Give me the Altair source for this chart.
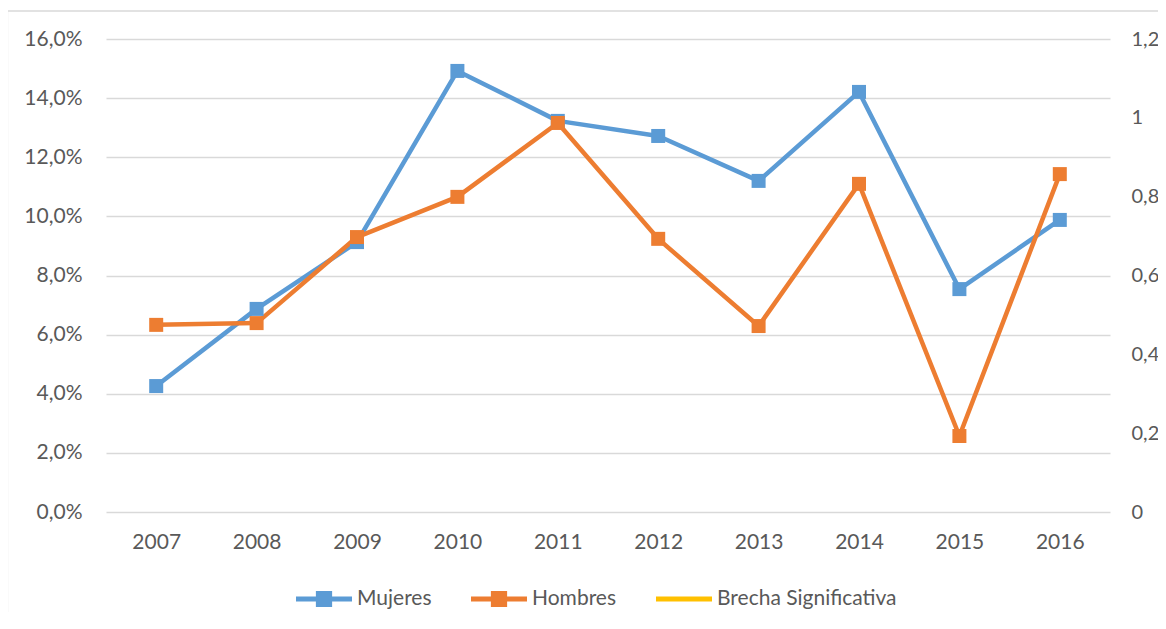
import altair as alt
import pandas as pd

years = ["2007", "2008", "2009", "2010", "2011", "2012", "2013", "2014", "2015", "2016"]
mujeres = [4.26, 6.87, 9.13, 14.92, 13.23, 12.72, 11.20, 14.21, 7.54, 9.88]
hombres = [6.33, 6.39, 9.30, 10.66, 13.16, 9.24, 6.29, 11.10, 2.57, 11.43]
brecha = [None] * 10  # no hay brecha significativa

series_names = ["Mujeres", "Hombres", "Brecha Significativa"]
series_colors = ["#5B9BD5", "#ED7D31", "#FFC000"]
left_ticks = [0, 2, 4, 6, 8, 10, 12, 14, 16]
right_ticks = [0, 0.2, 0.4, 0.6, 0.8, 1, 1.2]

FONT = "Lato"
TXT = "#595959"
GRID = "#d9d9d9"

rows = []
for y, m in zip(years, mujeres):
    rows.append({"year": y, "series": "Mujeres", "value": m})
for y, h in zip(years, hombres):
    rows.append({"year": y, "series": "Hombres", "value": h})
df = pd.DataFrame(rows)
df_b = pd.DataFrame({"year": years, "series": "Brecha Significativa", "brecha": brecha})

sym_marker = "M-1,-0.09H1V0.09H-1Z M-0.29,-0.29H0.29V0.29H-0.29Z"
sym_line = "M-1,-0.09H1V0.09H-1Z"

x_enc = alt.X(
    "year:O",
    sort=years,
    scale=alt.Scale(padding=0.5),
    axis=alt.Axis(title=None, labelAngle=0, domain=False, ticks=False, grid=False,
                  labelFont=FONT, labelFontSize=21, labelColor=TXT, labelPadding=19),
)
color_scale = alt.Scale(domain=series_names, range=series_colors)

y_left = alt.Y(
    "value:Q",
    scale=alt.Scale(domain=[0, 16], nice=False, zero=True),
    axis=alt.Axis(title=None, values=left_ticks, domain=False, ticks=False, grid=True,
                  gridColor=GRID, gridWidth=1.5,
                  labelExpr="replace(format(datum.value, '.1f'), '.', ',') + '%'",
                  labelFont=FONT, labelFontSize=21, labelColor=TXT, labelPadding=24),
)

lines = alt.Chart(df).mark_line(strokeWidth=4.5, strokeCap="round", strokeJoin="round").encode(
    x=x_enc, y=y_left,
    color=alt.Color("series:N", scale=color_scale, legend=None),
    detail="series:N",
)
points = alt.Chart(df).mark_point(filled=True, shape="square", size=196, opacity=1).encode(
    x=x_enc,
    y=alt.Y("value:Q", scale=alt.Scale(domain=[0, 16], nice=False)),
    color=alt.Color("series:N", scale=color_scale, legend=None),
)
left = alt.layer(lines, points)

legend = alt.Legend(
    title=None, orient="none", legendX=190, legendY=532, direction="horizontal",
    symbolSize=3136, symbolStrokeWidth=0, symbolOpacity=1,
    labelFont=FONT, labelFontSize=21, labelColor=TXT, labelOffset=5, labelLimit=400,
    columnPadding=39, padding=0,
)
brecha_layer = alt.Chart(df_b).mark_point(filled=True, opacity=1).encode(
    x=x_enc,
    y=alt.Y(
        "brecha:Q",
        scale=alt.Scale(domain=[0, 1.2], nice=False),
        axis=alt.Axis(title=None, orient="right", values=right_ticks, domain=False, ticks=False,
                      grid=False,
                      labelExpr="replace(format(datum.value, '~g'), '.', ',')",
                      labelFont=FONT, labelFontSize=20, labelColor=TXT, labelPadding=21),
    ),
    color=alt.Color("series:N", scale=color_scale, legend=legend),
    shape=alt.Shape("series:N", scale=alt.Scale(domain=series_names,
                                                range=[sym_marker, sym_marker, sym_line]),
                    legend=legend),
)

border = alt.Chart(pd.DataFrame({"b": [0]})).mark_rect(
    filled=False, stroke=GRID, strokeWidth=1.3
).encode(
    x=alt.value(-98.5), x2=alt.value(1300), y=alt.value(-28), y2=alt.value(800)
)

chart = alt.layer(border, left, brecha_layer).resolve_scale(
    y="independent"
).resolve_legend(color="independent", shape="independent").properties(
    width=1004, height=473,
    autosize=alt.AutoSizeParams(type="none"),
    padding={"left": 98, "top": 31, "right": 48, "bottom": 100},
    background="white",
).configure_view(stroke=None)

chart.save("out.html", embed_options={"renderer": "svg", "actions": False})
